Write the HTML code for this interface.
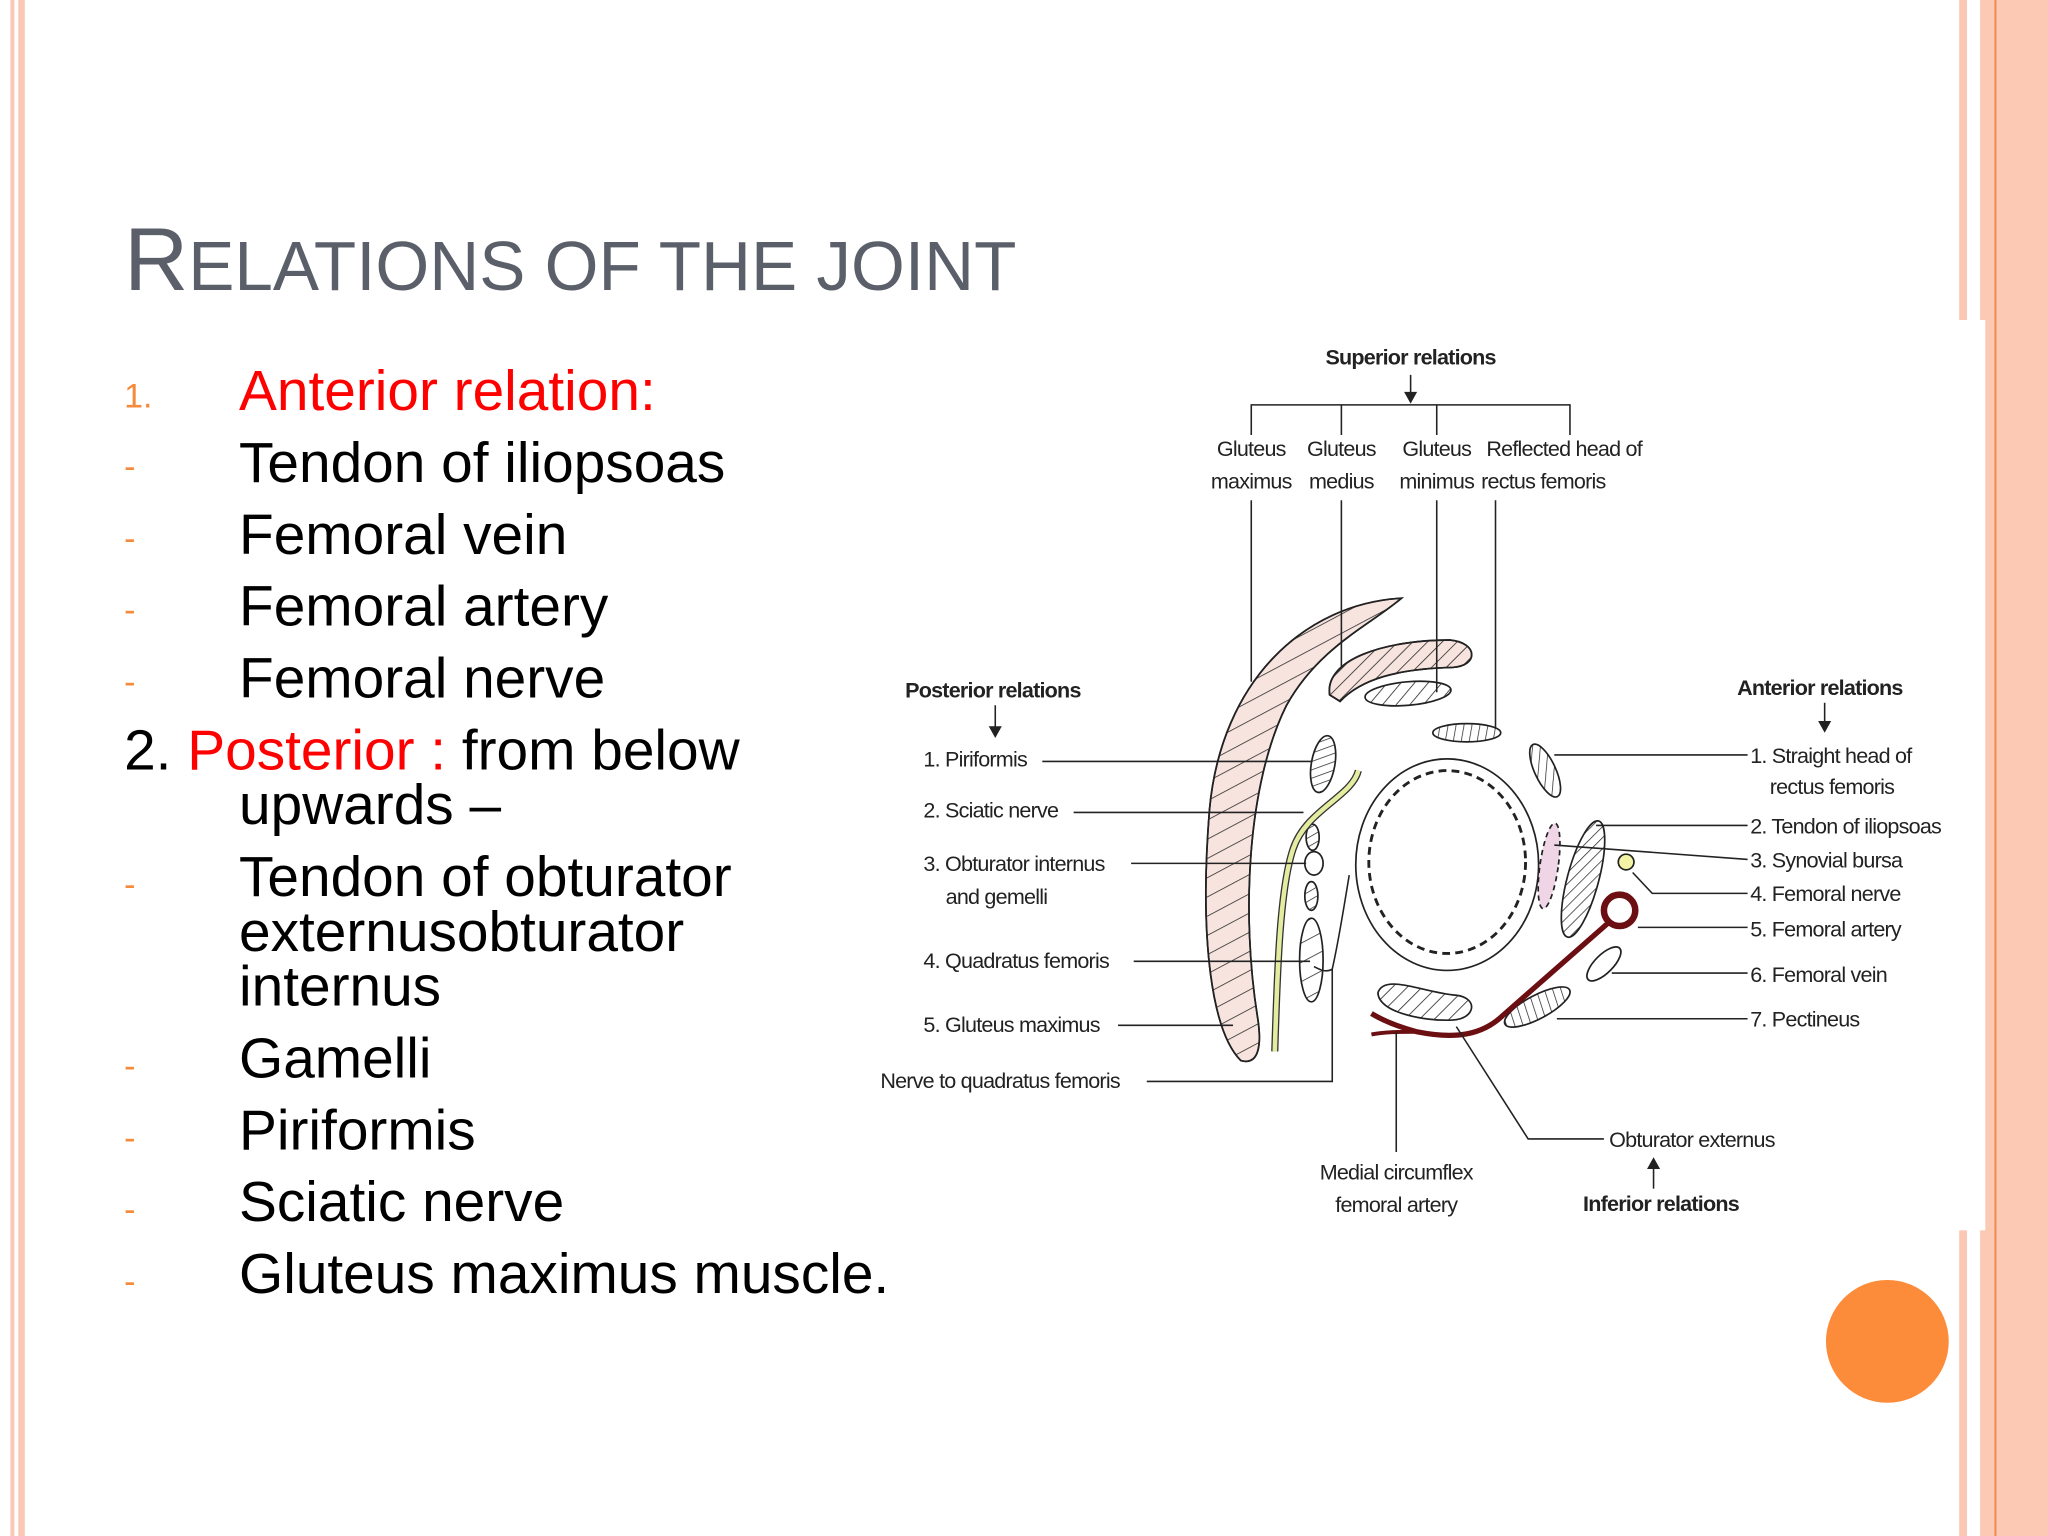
<!DOCTYPE html>
<html><head><meta charset="utf-8"><style>
html,body{margin:0;padding:0;background:#fff;}
svg{display:block;}
</style></head><body>
<svg width="2048" height="1536" viewBox="0 0 1568 1176" xmlns="http://www.w3.org/2000/svg">
<defs>
<pattern id="h1" width="13" height="13" patternUnits="userSpaceOnUse" patternTransform="rotate(-28)"><line x1="0" y1="0" x2="13" y2="0" stroke="#222" stroke-width="1.2"/></pattern>
<pattern id="h2" width="8" height="8" patternUnits="userSpaceOnUse" patternTransform="rotate(45)"><line x1="0" y1="0" x2="0" y2="8" stroke="#222" stroke-width="1.2"/></pattern>
<pattern id="h3" width="6" height="6" patternUnits="userSpaceOnUse" patternTransform="rotate(10)"><line x1="0" y1="0" x2="0" y2="6" stroke="#222" stroke-width="1.1"/></pattern>
<pattern id="h4" width="6" height="6" patternUnits="userSpaceOnUse" patternTransform="rotate(-30)"><line x1="0" y1="0" x2="6" y2="0" stroke="#222" stroke-width="1.1"/></pattern>
<pattern id="h5" width="6" height="6" patternUnits="userSpaceOnUse" patternTransform="rotate(30)"><line x1="0" y1="0" x2="0" y2="6" stroke="#222" stroke-width="1.1"/></pattern>
</defs>
<rect x="8" y="0" width="3" height="1176" fill="#fbc8b6"/>
<rect x="14" y="0" width="5" height="1176" fill="#fbc8b6"/>
<rect x="1500" y="0" width="6" height="1176" fill="#fbc8b6"/>
<rect x="1516" y="0" width="52" height="1176" fill="#fcc9b5"/>
<rect x="1527" y="0" width="1.5" height="1176" fill="#f08a4a"/>
<rect x="660" y="245" width="860" height="697" fill="#fff"/>
<text x="95" y="222" font-family="Liberation Sans, sans-serif" fill="#5a5f6a" font-size="68">R<tspan font-size="53">ELATIONS OF THE JOINT</tspan></text>
<g font-family="Liberation Sans, sans-serif" font-size="43.5">
<text x="95" y="312" font-size="26" fill="#f58a3d">1.</text>
<text x="183" y="314" fill="#ff0000">Anterior relation:</text>
<g fill="#f58a3d" font-size="26">
<text x="95" y="366">-</text><text x="95" y="421">-</text><text x="95" y="476">-</text><text x="95" y="531">-</text>
<text x="95" y="686">-</text><text x="95" y="825">-</text><text x="95" y="880">-</text><text x="95" y="935">-</text><text x="95" y="990">-</text>
</g>
<g fill="#000">
<text x="183" y="369">Tendon of iliopsoas</text>
<text x="183" y="424">Femoral vein</text>
<text x="183" y="479">Femoral artery</text>
<text x="183" y="534">Femoral nerve</text>
<text x="95" y="589">2. <tspan fill="#ff0000">Posterior : </tspan>from below</text>
<text x="183" y="631">upwards –</text>
<text x="183" y="686">Tendon of obturator</text>
<text x="183" y="728">externusobturator</text>
<text x="183" y="770">internus</text>
<text x="183" y="825">Gamelli</text>
<text x="183" y="880">Piriformis</text>
<text x="183" y="935">Sciatic nerve</text>
<text x="183" y="990">Gluteus maximus muscle.</text>
</g>
</g>
<circle cx="1445" cy="1027" r="47" fill="#fd8c3a"/>
<g stroke="#222" stroke-width="1.3">
<path d="M1073,458 C1000,462 935,520 926,620 C918,720 928,790 950,812 C964,816 966,800 963,780 C950,700 955,600 985,540 C1010,495 1050,478 1073,458 Z" fill="#f7e4df"/>
<path d="M1073,458 C1000,462 935,520 926,620 C918,720 928,790 950,812 C964,816 966,800 963,780 C950,700 955,600 985,540 C1010,495 1050,478 1073,458 Z" fill="url(#h1)"/>
<path d="M1018,532 C1014,505 1060,490 1110,490 C1132,492 1132,510 1112,511 C1070,512 1042,520 1026,537 Z" fill="#f7e4df"/>
<path d="M1018,532 C1014,505 1060,490 1110,490 C1132,492 1132,510 1112,511 C1070,512 1042,520 1026,537 Z" fill="url(#h2)"/>
<ellipse cx="1078" cy="531" rx="33" ry="9" fill="url(#h2)" transform="rotate(-5 1078 531)"/>
<ellipse cx="1123" cy="561" rx="26" ry="7" fill="url(#h3)"/>
<ellipse cx="1013" cy="585" rx="9" ry="22" fill="url(#h4)" transform="rotate(10 1013 585)"/>
<ellipse cx="1005" cy="641" rx="5" ry="10" fill="url(#h4)"/>
<ellipse cx="1006" cy="661" rx="7" ry="9" fill="#fff"/>
<ellipse cx="1004" cy="686" rx="5" ry="11" fill="url(#h4)"/>
<ellipse cx="1004" cy="735" rx="9" ry="32" fill="url(#h1)"/>
<ellipse cx="1108" cy="662" rx="70" ry="81" fill="none"/>
<ellipse cx="1108" cy="660" rx="60" ry="70" fill="none" stroke-width="2.2" stroke-dasharray="6,4"/>
<ellipse cx="1183" cy="590" rx="8" ry="22" fill="url(#h5)" transform="rotate(-25 1183 590)"/>
<ellipse cx="1186" cy="663" rx="7" ry="33" fill="#efd5e6" stroke-dasharray="4,3" transform="rotate(8 1186 663)"/>
<ellipse cx="1212" cy="673" rx="12" ry="46" fill="url(#h5)" transform="rotate(15 1212 673)"/>
<circle cx="1245" cy="660" r="6" fill="#f3f3a5"/>
<ellipse cx="1228" cy="738" rx="7" ry="17" fill="#fff" transform="rotate(45 1228 738)"/>
<ellipse cx="1177" cy="771" rx="28" ry="9" fill="url(#h3)" transform="rotate(-28 1177 771)"/>
<path d="M1055,760 C1060,745 1090,760 1115,762 C1132,764 1130,780 1112,781 C1090,782 1055,775 1055,760 Z" fill="url(#h2)"/>
</g>
<path d="M1040,590 C1035,610 1000,620 990,650 C980,680 978,740 976,805" fill="none" stroke="#333" stroke-width="5.5"/>
<path d="M1040,590 C1035,610 1000,620 990,650 C980,680 978,740 976,805" fill="none" stroke="#e4eca0" stroke-width="3.5"/>
<g stroke="#6b0f12" fill="none">
<circle cx="1240" cy="697" r="12" stroke-width="5"/>
<path d="M1232,706 L1150,778 C1135,792 1115,796 1085,790 C1070,786 1060,782 1050,776" stroke-width="4"/>
<path d="M1085,790 C1070,790 1060,790 1050,792" stroke-width="3"/>
</g>
<g stroke="#222" stroke-width="1.2" fill="none">
<path d="M1080,287 V306"/><path d="M958,333 V310 H1202 V333"/>
<path d="M1027,310 V333 M1100,310 V333"/>
<path d="M958,383 V522 M1027,383 V510 M1100,383 V530 M1145,383 V558"/>
<path d="M762,540 V562 M1397,538 V558 M1266,910 V890"/>
<path d="M798,583 H1004 M822,622 H998 M866,661 H1000 M868,736 H1003 M856,785 H944"/>
<path d="M878,828 H1020 V742 C1025,720 1028,700 1033,670"/>
<path d="M1020,742 C1015,745 1010,742 1006,740"/>
<path d="M1190,578 H1338 M1222,632 H1338 M1190,647 L1338,658 M1250,668 L1265,684 H1338 M1254,710 H1338 M1234,745 H1338 M1192,780 H1338"/>
<path d="M1115,786 L1170,872 H1228 M1069,790 V882"/>
</g>
<g fill="#222"><path d="M1075,300 L1085,300 L1080,309Z"/><path d="M757,556 L767,556 L762,565Z"/><path d="M1392,552 L1402,552 L1397,561Z"/><path d="M1261,895 L1271,895 L1266,886Z"/></g>
<g font-family="Liberation Sans, sans-serif" font-size="16.5" fill="#222" letter-spacing="-0.6">
<g font-weight="bold">
<text x="1080" y="279" text-anchor="middle">Superior relations</text>
<text x="693" y="534">Posterior relations</text>
<text x="1330" y="532">Anterior relations</text>
<text x="1212" y="927">Inferior relations</text>
</g>
<text x="958" y="349" text-anchor="middle">Gluteus</text><text x="1027" y="349" text-anchor="middle">Gluteus</text><text x="1100" y="349" text-anchor="middle">Gluteus</text><text x="1138" y="349">Reflected head of</text>
<text x="958" y="374" text-anchor="middle">maximus</text><text x="1027" y="374" text-anchor="middle">medius</text><text x="1100" y="374" text-anchor="middle">minimus</text><text x="1134" y="374">rectus femoris</text>
<text x="707" y="587">1. Piriformis</text>
<text x="707" y="626">2. Sciatic nerve</text>
<text x="707" y="667">3. Obturator internus</text>
<text x="724" y="692">and gemelli</text>
<text x="707" y="741">4. Quadratus femoris</text>
<text x="707" y="790">5. Gluteus maximus</text>
<text x="674" y="833">Nerve to quadratus femoris</text>
<text x="1340" y="584">1. Straight head of</text>
<text x="1355" y="608">rectus femoris</text>
<text x="1340" y="638">2. Tendon of iliopsoas</text>
<text x="1340" y="664">3. Synovial bursa</text>
<text x="1340" y="690">4. Femoral nerve</text>
<text x="1340" y="717">5. Femoral artery</text>
<text x="1340" y="752">6. Femoral vein</text>
<text x="1340" y="786">7. Pectineus</text>
<text x="1232" y="878">Obturator externus</text>
<text x="1069" y="903" text-anchor="middle">Medial circumflex</text>
<text x="1069" y="928" text-anchor="middle">femoral artery</text>
</g>
</svg>
</body></html>
